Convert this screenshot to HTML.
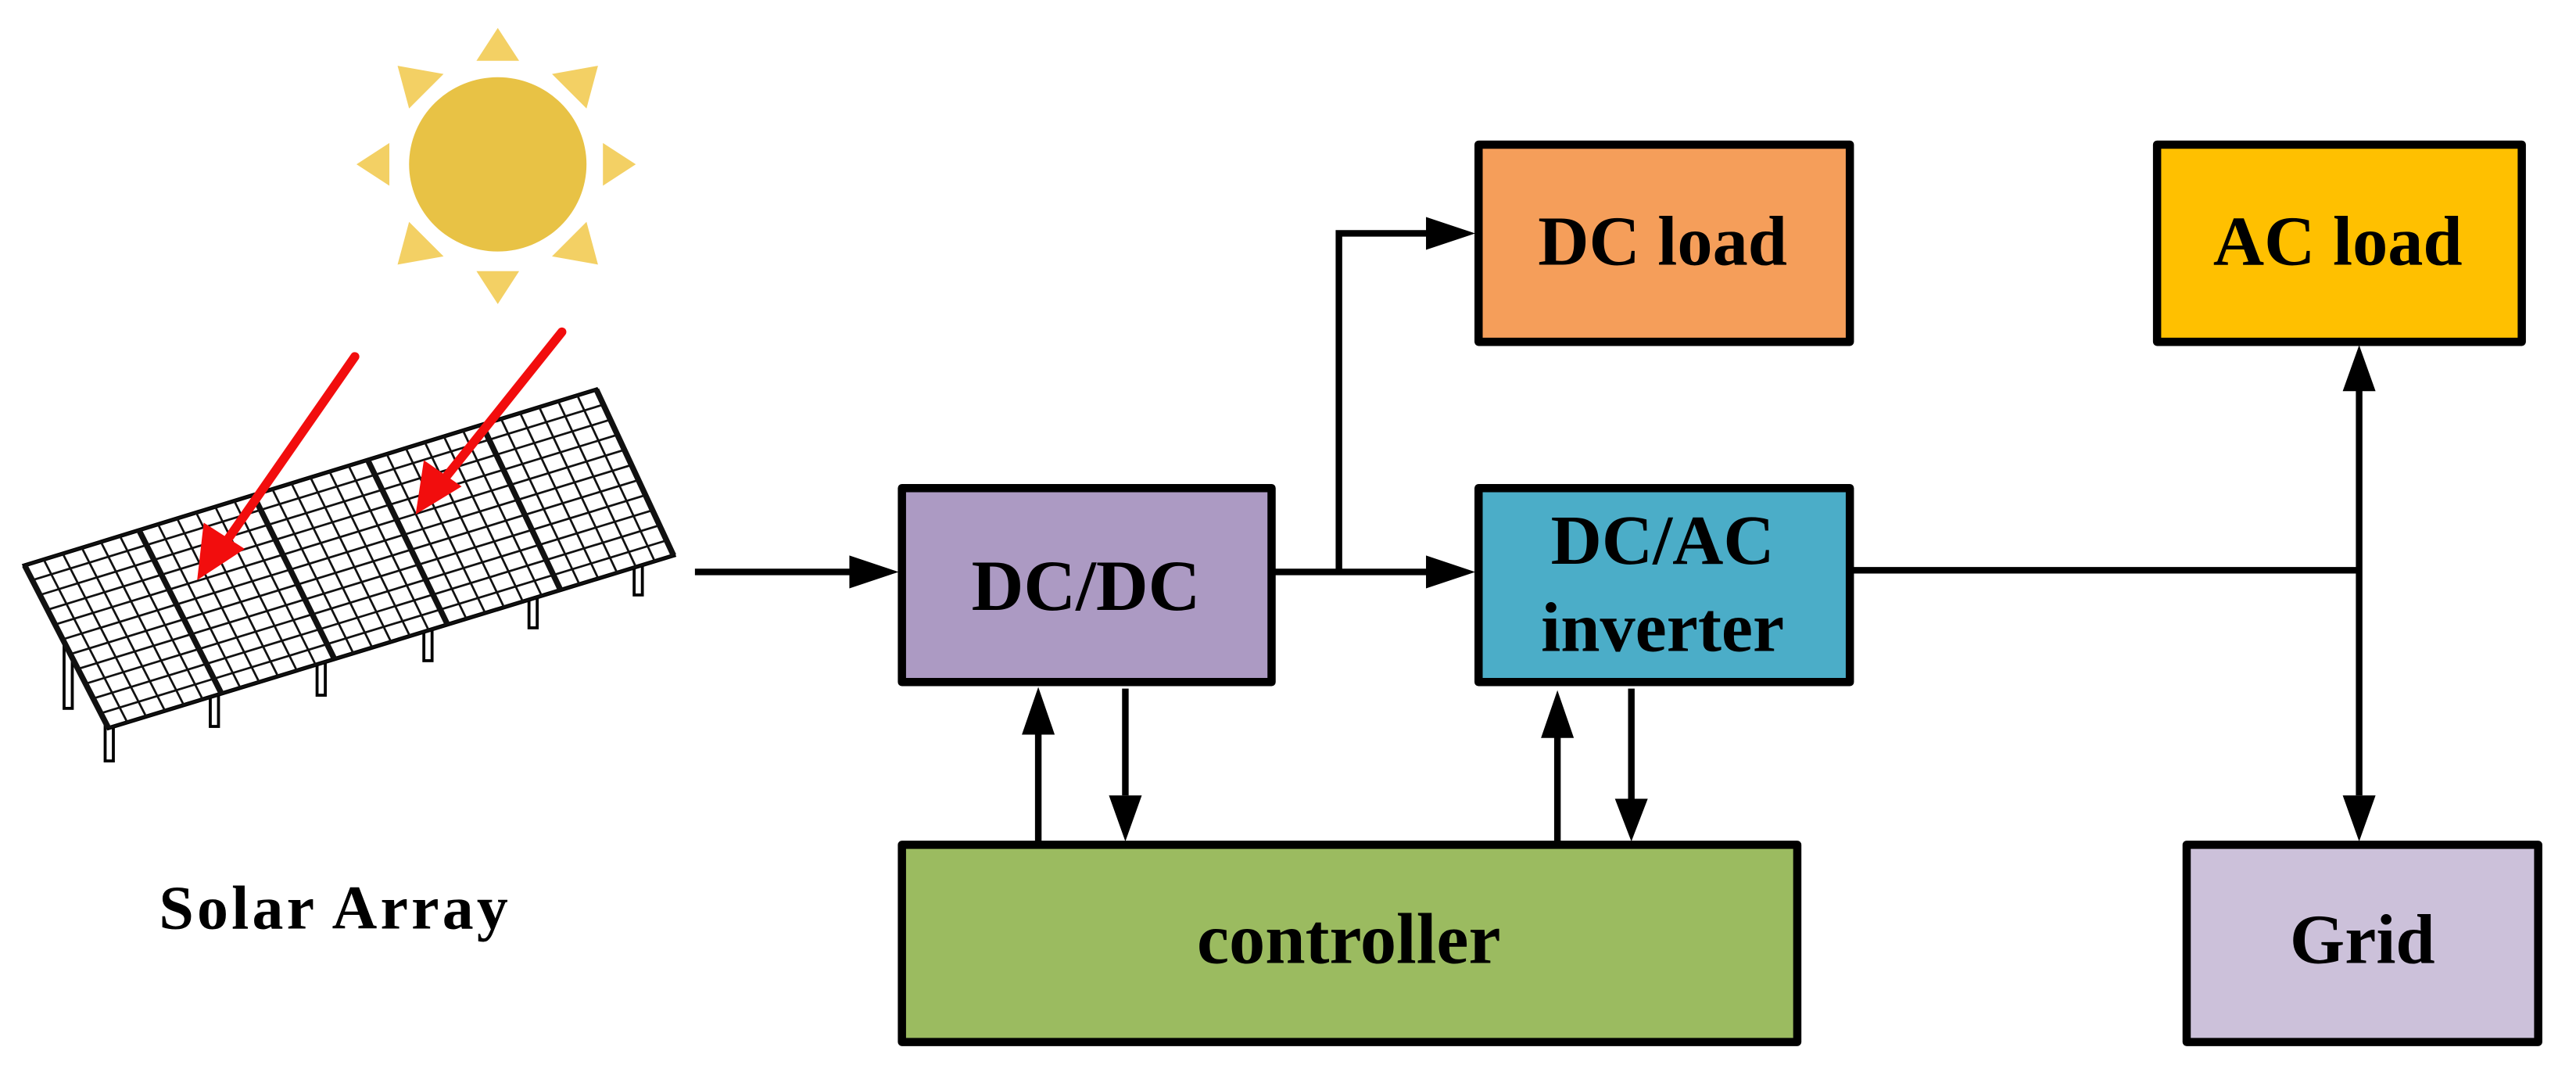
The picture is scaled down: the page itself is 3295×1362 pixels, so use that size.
<!DOCTYPE html>
<html><head><meta charset="utf-8"><style>
html,body{margin:0;padding:0;background:#fff;}
svg{display:block;}
text{font-family:"Liberation Serif",serif;font-weight:bold;fill:#000;}
</style></head><body>
<svg width="3295" height="1362" viewBox="0 0 1568 648" preserveAspectRatio="none" xmlns="http://www.w3.org/2000/svg">
<!-- Sun -->
<g fill="#F3D064">
<polygon points="303,17 290,37 316,37"/>
<polygon points="303,185 290,165 316,165"/>
<polygon points="217,100 237,87 237,113"/>
<polygon points="387,100 367,87 367,113"/>
<polygon points="242,40 270,45 249,66"/>
<polygon points="364,40 336,45 357,66"/>
<polygon points="242,161 270,156 249,135"/>
<polygon points="364,161 336,156 357,135"/>
</g>
<ellipse cx="303" cy="100" rx="54" ry="53" fill="#E8C245"/>
<!-- legs -->
<g fill="#fff" stroke="#000" stroke-width="1.8">
<rect x="39" y="390" width="5" height="41"/>
<rect x="64" y="440" width="5" height="23"/>
<rect x="128" y="420" width="5" height="22"/>
<rect x="193" y="400" width="5" height="23"/>
<rect x="258" y="382" width="5" height="20"/>
<rect x="322" y="360" width="5" height="22"/>
<rect x="386" y="340" width="5" height="22"/>
</g>
<!-- Solar panel -->
<polygon points="15,344 363,237 410,338 66,443" fill="#fff" stroke="#000" stroke-width="2.5"/>
<g id="grid" stroke="#111" stroke-width="1.3" fill="none"></g>
<!-- Red arrows -->
<g stroke="#F20D0D" stroke-width="5.5" stroke-linecap="round">
<line x1="216" y1="217" x2="136" y2="332"/>
<line x1="342" y1="202" x2="270" y2="292"/>
</g>
<polygon points="120,353 124,318 149,334" fill="#F20D0D"/>
<polygon points="253,313 258,280 281,296" fill="#F20D0D"/>
<!-- boxes -->
<g stroke="#000" stroke-width="5" stroke-linejoin="round">
<rect x="549" y="297" width="225" height="118" fill="#AC9AC3"/>
<rect x="900" y="88" width="226" height="120" fill="#F59E5A"/>
<rect x="900" y="297" width="226" height="118" fill="#4BADC8"/>
<rect x="1313" y="88" width="222" height="120" fill="#FFC000"/>
<rect x="1331" y="514" width="214" height="120" fill="#CCC1DA"/>
<rect x="549" y="514" width="545" height="120" fill="#9BBB60"/>
</g>
<!-- connectors -->
<g stroke="#000" stroke-width="4" fill="none">
<line x1="423" y1="348" x2="520" y2="348"/>
<line x1="776" y1="348" x2="872" y2="348"/>
<polyline points="815,348 815,142 872,142"/>
<line x1="1128" y1="347" x2="1436" y2="347"/>
<line x1="1436" y1="237" x2="1436" y2="484"/>
<line x1="632" y1="512" x2="632" y2="445"/>
<line x1="685" y1="419" x2="685" y2="484"/>
<line x1="948" y1="512" x2="948" y2="448"/>
<line x1="993" y1="419" x2="993" y2="486"/>
</g>
<g fill="#000">
<polygon points="547,348 517,338 517,358"/>
<polygon points="898,348 868,338 868,358"/>
<polygon points="898,142 868,132 868,152"/>
<polygon points="1436,210 1426,238 1446,238"/>
<polygon points="1436,512 1426,484 1446,484"/>
<polygon points="632,418 622,447 642,447"/>
<polygon points="685,512 675,484 695,484"/>
<polygon points="948,420 938,449 958,449"/>
<polygon points="993,512 983,486 1003,486"/>
</g>
<!-- labels -->
<text x="661" y="371" font-size="44" text-anchor="middle">DC/DC</text>
<text x="1012" y="161" font-size="43" text-anchor="middle">DC load</text>
<text x="1012" y="343" font-size="43" text-anchor="middle">DC/AC</text>
<text x="1012" y="396" font-size="43" text-anchor="middle">inverter</text>
<text x="1423" y="161" font-size="43" text-anchor="middle">AC load</text>
<text x="1438" y="586" font-size="43" text-anchor="middle">Grid</text>
<text x="821" y="586" font-size="44" text-anchor="middle">controller</text>
<text x="204" y="565" font-size="38" text-anchor="middle" letter-spacing="2">Solar Array</text>
</svg>
<script>
(function(){
var g=document.getElementById('grid');var ns='http://www.w3.org/2000/svg';
var TL=[15,344],TR=[363,237],BR=[410,338],BL=[66,443];
function P(u,v){var tx=TL[0]+(TR[0]-TL[0])*u,ty=TL[1]+(TR[1]-TL[1])*u,bx=BL[0]+(BR[0]-BL[0])*u,by=BL[1]+(BR[1]-BL[1])*u;return [tx+(bx-tx)*v,ty+(by-ty)*v];}
function L(a,b,w){var l=document.createElementNS(ns,'line');l.setAttribute('x1',a[0]);l.setAttribute('y1',a[1]);l.setAttribute('x2',b[0]);l.setAttribute('y2',b[1]);if(w)l.setAttribute('stroke-width',w);g.appendChild(l);}
for(var i=0;i<=30;i++){L(P(i/30,0),P(i/30,1),i%6==0?3.5:1.3);}
for(var j=0;j<=11;j++){L(P(0,j/11),P(1,j/11));}
})();
</script>
</body></html>
